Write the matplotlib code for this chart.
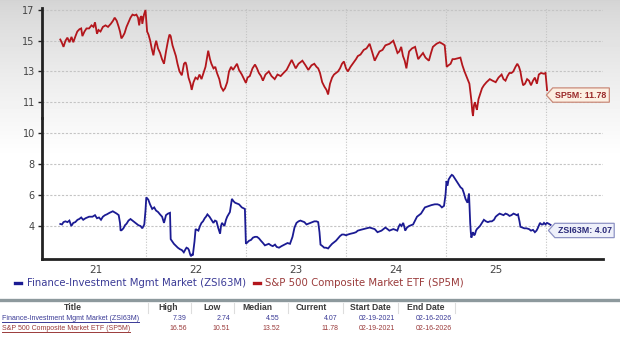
import numpy as np
import matplotlib
matplotlib.use("Agg")
import matplotlib.pyplot as plt
from matplotlib.path import Path
from matplotlib.lines import Line2D

# ---------------- data ----------------
sp5m_year = [
    2021.148, 2021.165, 2021.180, 2021.200, 2021.219, 2021.240, 2021.260, 2021.278, 2021.300, 2021.318,
    2021.340, 2021.357, 2021.369, 2021.390, 2021.410, 2021.436, 2021.460, 2021.480, 2021.495, 2021.515,
    2021.530, 2021.550, 2021.574, 2021.600, 2021.625, 2021.653, 2021.675, 2021.692, 2021.712, 2021.732,
    2021.745, 2021.759, 2021.775, 2021.791, 2021.810, 2021.830, 2021.850, 2021.870, 2021.890, 2021.909,
    2021.925, 2021.937, 2021.948, 2021.961, 2021.968, 2021.985, 2022.000, 2022.016, 2022.030, 2022.047,
    2022.062, 2022.079, 2022.095, 2022.107, 2022.125, 2022.146, 2022.165, 2022.185, 2022.205, 2022.225,
    2022.240, 2022.252, 2022.270, 2022.290, 2022.304, 2022.320, 2022.340, 2022.363, 2022.385, 2022.400,
    2022.410, 2022.430, 2022.450, 2022.462, 2022.480, 2022.500, 2022.521, 2022.540, 2022.560, 2022.580,
    2022.600, 2022.615, 2022.627, 2022.645, 2022.659, 2022.680, 2022.698, 2022.715, 2022.738, 2022.755,
    2022.777, 2022.795, 2022.817, 2022.835, 2022.856, 2022.875, 2022.895, 2022.915, 2022.935, 2022.963,
    2022.985, 2023.004, 2023.020, 2023.043, 2023.070, 2023.095, 2023.115, 2023.134, 2023.155, 2023.174,
    2023.200, 2023.233, 2023.260, 2023.292, 2023.320, 2023.352, 2023.380, 2023.411, 2023.435, 2023.462,
    2023.480, 2023.502, 2023.530, 2023.569, 2023.600, 2023.628, 2023.660, 2023.688, 2023.710, 2023.727,
    2023.745, 2023.767, 2023.790, 2023.810, 2023.826, 2023.845, 2023.866, 2023.885, 2023.905, 2023.925,
    2023.945, 2023.965, 2023.984, 2024.005, 2024.024, 2024.050, 2024.083, 2024.105, 2024.123, 2024.150,
    2024.182, 2024.210, 2024.241, 2024.265, 2024.292, 2024.315, 2024.340, 2024.370, 2024.399, 2024.440,
    2024.478, 2024.500, 2024.520, 2024.538, 2024.557, 2024.575, 2024.592, 2024.609, 2024.625, 2024.636,
    2024.665, 2024.696, 2024.712, 2024.727, 2024.750, 2024.775, 2024.800, 2024.834, 2024.855, 2024.874,
    2024.910, 2024.941, 2024.970, 2024.992, 2025.012, 2025.030, 2025.051, 2025.070, 2025.090, 2025.120,
    2025.149, 2025.169, 2025.190, 2025.208, 2025.225, 2025.239, 2025.250, 2025.259, 2025.268, 2025.275,
    2025.285, 2025.294, 2025.305, 2025.314, 2025.330, 2025.345, 2025.365, 2025.384, 2025.410, 2025.443,
    2025.470, 2025.502, 2025.530, 2025.561, 2025.580, 2025.600, 2025.620, 2025.639, 2025.660, 2025.678,
    2025.700, 2025.718, 2025.735, 2025.749, 2025.762, 2025.776, 2025.795, 2025.816, 2025.835, 2025.855,
    2025.875, 2025.894, 2025.914, 2025.933, 2025.955, 2025.984, 2026.000, 2026.008, 2026.016,
]
sp5m_value = [
    15.08, 14.85, 14.60, 15.00, 15.20, 14.90, 15.25, 14.90, 15.30, 15.60,
    15.75, 15.80, 15.30, 15.60, 15.80, 15.80, 16.00, 15.90, 16.20, 15.45,
    15.70, 15.60, 15.90, 16.00, 15.90, 16.10, 16.30, 16.50, 16.30, 15.90,
    15.60, 15.15, 15.30, 15.50, 15.90, 16.20, 16.50, 16.70, 16.65, 16.70,
    16.50, 16.00, 16.50, 16.60, 16.10, 16.70, 17.00, 15.60, 15.40, 15.00,
    14.50, 14.05, 14.70, 15.00, 14.50, 14.20, 13.80, 13.50, 14.30, 15.00,
    15.40, 15.30, 14.70, 14.30, 14.00, 13.50, 13.00, 12.75, 13.50, 13.60,
    13.40, 12.60, 12.20, 11.80, 12.30, 12.60, 12.50, 12.80, 12.50, 12.90,
    13.30, 13.90, 14.35, 13.80, 13.50, 13.20, 13.30, 12.90, 12.50, 12.00,
    11.75, 11.90, 12.30, 13.00, 13.30, 13.10, 13.30, 13.50, 13.10, 12.80,
    12.50, 12.25, 12.60, 12.70, 13.20, 13.45, 13.20, 12.90, 12.70, 12.40,
    12.80, 13.00, 12.70, 12.50, 12.80, 12.70, 12.90, 13.10, 13.40, 13.75,
    13.50, 13.20, 13.50, 13.70, 13.40, 13.10, 13.40, 13.50, 13.30, 13.20,
    12.90, 12.30, 12.00, 11.80, 11.50, 12.20, 12.60, 12.80, 12.90, 13.00,
    13.20, 13.50, 13.65, 13.20, 13.00, 13.30, 13.60, 13.80, 14.00, 14.10,
    14.40, 14.50, 14.80, 14.30, 13.70, 14.00, 14.30, 14.40, 14.70, 14.80,
    15.00, 14.60, 14.20, 14.30, 14.60, 14.00, 13.70, 13.20, 13.90, 14.30,
    14.50, 14.60, 14.20, 13.80, 14.00, 14.20, 13.90, 13.70, 14.20, 14.60,
    14.80, 14.90, 14.80, 14.70, 13.30, 13.40, 13.50, 13.80, 13.80, 13.85,
    13.90, 13.40, 13.00, 12.70, 12.40, 12.20, 11.60, 11.10, 10.40, 10.10,
    10.80, 11.00, 10.70, 10.50, 11.20, 11.50, 11.90, 12.10, 12.30, 12.50,
    12.40, 12.30, 12.60, 12.80, 12.50, 12.40, 12.70, 12.90, 12.90, 13.00,
    13.30, 13.50, 13.30, 13.00, 12.50, 12.10, 12.20, 12.50, 12.40, 12.10,
    12.40, 12.60, 12.20, 12.80, 12.90, 12.85, 12.90, 12.30, 11.78,
]

zsi_year = [
    2021.148, 2021.165, 2021.180, 2021.199, 2021.220, 2021.239, 2021.258, 2021.278, 2021.298, 2021.320,
    2021.337, 2021.357, 2021.377, 2021.400, 2021.436, 2021.470, 2021.495, 2021.515, 2021.535, 2021.555,
    2021.574, 2021.595, 2021.613, 2021.640, 2021.673, 2021.700, 2021.712, 2021.732, 2021.745, 2021.751,
    2021.765, 2021.779, 2021.795, 2021.811, 2021.830, 2021.850, 2021.870, 2021.890, 2021.910, 2021.929,
    2021.950, 2021.968, 2021.988, 2022.000, 2022.008, 2022.028, 2022.045, 2022.067, 2022.087, 2022.105,
    2022.126, 2022.145, 2022.166, 2022.185, 2022.205, 2022.225, 2022.245, 2022.252, 2022.268, 2022.284,
    2022.300, 2022.323, 2022.345, 2022.363, 2022.383, 2022.400, 2022.410, 2022.425, 2022.434, 2022.445,
    2022.454, 2022.465, 2022.473, 2022.490, 2022.501, 2022.515, 2022.529, 2022.545, 2022.560, 2022.575,
    2022.592, 2022.605, 2022.619, 2022.640, 2022.659, 2022.679, 2022.695, 2022.710, 2022.726, 2022.746,
    2022.755, 2022.765, 2022.789, 2022.805, 2022.817, 2022.844, 2022.864, 2022.880, 2022.896, 2022.915,
    2022.935, 2022.963, 2022.994, 2023.004, 2023.020, 2023.036, 2023.055, 2023.075, 2023.095, 2023.115,
    2023.135, 2023.154, 2023.175, 2023.194, 2023.213, 2023.233, 2023.255, 2023.273, 2023.295, 2023.312,
    2023.335, 2023.360, 2023.391, 2023.420, 2023.445, 2023.470, 2023.490, 2023.510, 2023.530, 2023.549,
    2023.570, 2023.589, 2023.610, 2023.630, 2023.648, 2023.668, 2023.688, 2023.710, 2023.727, 2023.740,
    2023.750, 2023.770, 2023.787, 2023.805, 2023.826, 2023.845, 2023.866, 2023.885, 2023.905, 2023.925,
    2023.945, 2023.965, 2023.984, 2024.005, 2024.024, 2024.050, 2024.083, 2024.105, 2024.123, 2024.150,
    2024.182, 2024.210, 2024.241, 2024.265, 2024.292, 2024.320, 2024.340, 2024.360, 2024.380, 2024.399,
    2024.420, 2024.439, 2024.460, 2024.478, 2024.500, 2024.518, 2024.535, 2024.545, 2024.560, 2024.577,
    2024.590, 2024.597, 2024.615, 2024.636, 2024.655, 2024.676, 2024.695, 2024.715, 2024.735, 2024.755,
    2024.775, 2024.794, 2024.815, 2024.834, 2024.860, 2024.893, 2024.920, 2024.941, 2024.964, 2024.985,
    2025.000, 2025.010, 2025.020, 2025.031, 2025.050, 2025.063, 2025.075, 2025.090, 2025.110, 2025.129,
    2025.150, 2025.169, 2025.185, 2025.200, 2025.220, 2025.235, 2025.242, 2025.247, 2025.253, 2025.259,
    2025.268, 2025.275, 2025.285, 2025.294, 2025.305, 2025.314, 2025.330, 2025.345, 2025.365, 2025.384,
    2025.405, 2025.424, 2025.445, 2025.463, 2025.485, 2025.502, 2025.520, 2025.541, 2025.560, 2025.580,
    2025.600, 2025.620, 2025.640, 2025.659, 2025.680, 2025.698, 2025.712, 2025.725, 2025.740, 2025.749,
    2025.770, 2025.788, 2025.810, 2025.835, 2025.855, 2025.875, 2025.894, 2025.910, 2025.922, 2025.945,
    2025.960, 2025.973, 2025.985, 2026.000, 2026.015, 2026.031, 2026.051,
]
zsi_value = [
    4.13, 4.10, 4.25, 4.30, 4.25, 4.35, 4.00, 4.20, 4.25, 4.40,
    4.45, 4.55, 4.40, 4.50, 4.60, 4.60, 4.70, 4.50, 4.55, 4.40,
    4.60, 4.70, 4.75, 4.85, 4.95, 4.85, 4.80, 4.70, 4.20, 3.70,
    3.75, 3.85, 4.05, 4.15, 4.35, 4.45, 4.35, 4.25, 4.15, 4.05,
    4.00, 3.85, 4.10, 5.00, 5.85, 5.70, 5.40, 5.10, 5.20, 5.00,
    4.90, 4.75, 4.60, 4.20, 4.70, 4.80, 4.85, 3.15, 3.00, 2.85,
    2.75, 2.60, 2.50, 2.45, 2.30, 2.50, 2.60, 2.55, 2.45, 2.20,
    2.05, 2.15, 2.10, 3.00, 3.80, 3.75, 3.70, 4.00, 4.20, 4.30,
    4.50, 4.60, 4.75, 4.60, 4.40, 4.20, 4.35, 4.30, 3.90, 3.50,
    4.00, 4.20, 4.00, 4.40, 4.60, 4.90, 5.75, 5.60, 5.50, 5.45,
    5.40, 5.20, 5.10, 2.85, 2.95, 3.05, 3.10, 3.25, 3.30, 3.30,
    3.20, 3.05, 2.90, 2.75, 2.80, 2.85, 2.75, 2.70, 2.80, 2.65,
    2.60, 2.70, 2.80, 2.90, 2.85, 3.30, 3.90, 4.20, 4.30, 4.35,
    4.30, 4.25, 4.10, 4.15, 4.20, 4.25, 4.30, 4.30, 4.25, 3.60,
    2.80, 2.70, 2.60, 2.60, 2.55, 2.70, 2.85, 2.95, 3.05, 3.20,
    3.35, 3.45, 3.45, 3.40, 3.45, 3.50, 3.55, 3.60, 3.70, 3.75,
    3.80, 3.85, 3.90, 3.85, 3.80, 3.60, 3.65, 3.70, 3.80, 3.90,
    3.80, 3.70, 3.75, 3.80, 3.75, 3.70, 4.00, 4.10, 4.00, 4.20,
    3.90, 3.70, 3.90, 4.00, 4.05, 4.10, 4.35, 4.60, 4.70, 4.80,
    5.00, 5.20, 5.25, 5.30, 5.35, 5.40, 5.40, 5.35, 5.20, 5.30,
    6.00, 6.90, 6.60, 7.00, 7.20, 7.30, 7.25, 7.10, 6.90, 6.70,
    6.50, 6.40, 6.10, 5.75, 5.50, 6.10, 5.00, 4.20, 3.60, 3.25,
    3.50, 3.60, 3.40, 3.45, 3.70, 3.80, 3.90, 4.00, 4.20, 4.40,
    4.30, 4.25, 4.30, 4.30, 4.40, 4.60, 4.70, 4.80, 4.75, 4.70,
    4.80, 4.75, 4.65, 4.70, 4.80, 4.75, 4.70, 4.75, 4.30, 3.95,
    3.90, 3.85, 3.85, 3.80, 3.70, 3.75, 3.60, 3.70, 3.85, 4.20,
    4.10, 4.10, 4.20, 4.10, 4.20, 4.15, 4.07,
]

year_labels = ["21", "22", "23", "24", "25"]
upper_ticks = [11, 13, 15, 17]
lower_ticks = [4, 6, 8, 10]

sp5m_name = "S&P 500 Composite Market ETF (SP5M)"
zsi_name = "Finance-Investment Mgmt Market (ZSI63M)"
sp5m_tag = "SP5M"
zsi_tag = "ZSI63M"

table_header = ["Title", "High", "Low", "Median", "Current", "Start Date", "End Date"]
table_rows = [
    [zsi_name, "7.39", "2.74", "4.55", "4.07", "02-19-2021", "02-16-2026"],
    [sp5m_name, "16.56", "10.51", "13.52", "11.78", "02-19-2021", "02-16-2026"],
]

# ---------------- style ----------------
RED = "#b3161c"
BLUE = "#1b1b93"
RED_TXT = "#9a3a3a"
BLUE_TXT = "#3a3a96"
GRID = "#c4c4c4"
W, H = 620, 349
DPI = 100

fig = plt.figure(figsize=(W / DPI, H / DPI), dpi=DPI)
fig.patch.set_facecolor("white")


def fx(px):
    return px / W


def fy(py):
    return 1 - py / H


# soft grey wash behind the top of the chart
bg = fig.add_axes([0, 0, 1, 1], zorder=-10)
rows = np.linspace(0, 1, 349)
shade = np.clip(rows / 0.45, 0, 1) ** 0.8
grad = 0.83 + (1 - 0.83) * shade
bg.imshow(np.repeat(grad[:, None], 2, axis=1), cmap="gray", vmin=0, vmax=1,
          aspect="auto", extent=[0, 1, 0, 1], origin="upper")
bg.axis("off")

left_px, right_px = 41.7, 603
split_px = 118
xlim = (2020.962, 2026.575)

ax_top = fig.add_axes([fx(left_px), fy(split_px), fx(right_px - left_px), (split_px - 8) / H])
ax_bot = fig.add_axes([fx(left_px), fy(259), fx(right_px - left_px), (259 - split_px) / H])

for ax in (ax_top, ax_bot):
    ax.set_facecolor("none")
    ax.set_xlim(*xlim)
    for s in ("top", "right"):
        ax.spines[s].set_visible(False)
    ax.spines["left"].set_linewidth(2.0)
    ax.spines["left"].set_color("#222222")
    ax.tick_params(axis="y", length=3, width=1, color="#222222", labelsize=7, labelcolor="#444444", pad=2)
    ax.set_xticks([2022, 2023, 2024, 2025, 2026], minor=True)
    ax.grid(True, which="minor", axis="x", color=GRID, linestyle=(0, (1, 1.5)), linewidth=0.8)
    ax.grid(True, which="major", axis="y", color=GRID, linestyle=(0, (2, 1.5)), linewidth=0.8)
    ax.tick_params(axis="x", which="both", length=0)

ax_top.spines["bottom"].set_visible(False)
ax_top.set_ylim(9.97, 17.13)
ax_top.set_yticks(upper_ticks)
ax_top.set_xticks([])
ax_top.set_xticks([2022, 2023, 2024, 2025, 2026], minor=True)

ax_bot.set_ylim(1.87, 10.97)
ax_bot.set_yticks(lower_ticks)
ax_bot.spines["bottom"].set_linewidth(2.0)
ax_bot.spines["bottom"].set_color("#222222")
ax_bot.set_xticks([y + 0.5 for y in range(2021, 2026)])
ax_bot.set_xticklabels(year_labels, fontsize=7.5, color="#444444")
ax_bot.tick_params(axis="x", which="major", pad=4)

ax_top.plot(sp5m_year, sp5m_value, color=RED, linewidth=1.3, solid_joinstyle="miter", clip_on=False)
ax_bot.plot(zsi_year, zsi_value, color=BLUE, linewidth=1.3, solid_joinstyle="miter", clip_on=False)


def tag_box(x0, y0, width, height, mutation_size):
    pad = 0.3 * mutation_size
    x0, y0 = x0 - pad, y0 - pad
    width, height = width + 2 * pad, height + 2 * pad
    tip = 0.45 * height
    verts = [(x0 - tip, y0 + height / 2), (x0, y0 + height), (x0 + width, y0 + height),
             (x0 + width, y0), (x0, y0), (x0 - tip, y0 + height / 2)]
    return Path(verts, closed=True)


ax_top.annotate(f"{sp5m_tag}: {sp5m_value[-1]:.2f}", xy=(sp5m_year[-1], sp5m_value[-1]),
                xytext=(6, -3.5), textcoords="offset points", ha="left", va="center",
                fontsize=6.4, fontweight="bold", color="#9b2b2b", family="Liberation Sans",
                annotation_clip=False, zorder=5,
                bbox=dict(boxstyle=tag_box, fc="#fcefe2", ec="#c98a7a", lw=0.9))
ax_bot.annotate(f"{zsi_tag}: {zsi_value[-1]:.2f}", xy=(zsi_year[-1], zsi_value[-1]),
                xytext=(5, -4), textcoords="offset points", ha="left", va="center",
                fontsize=6.4, fontweight="bold", color="#2b2b7a", family="Liberation Sans",
                annotation_clip=False, zorder=5,
                bbox=dict(boxstyle=tag_box, fc="#eef0fa", ec="#8e93c4", lw=0.9))

# legend row
leg_y = fy(283)
fig.add_artist(Line2D([fx(15), fx(21)], [leg_y, leg_y], color=BLUE, lw=2.4))
fig.text(fx(27), leg_y, zsi_name, color=BLUE_TXT, fontsize=7.3, va="center", ha="left")
fig.add_artist(Line2D([fx(254), fx(260)], [leg_y, leg_y], color=RED, lw=2.4))
fig.text(fx(265), leg_y, sp5m_name, color=RED_TXT, fontsize=7.3, va="center", ha="left")

# separator bar
fig.add_artist(Line2D([0, 1], [fy(300), fy(300)], color="#8d999d", lw=2.4))

# summary table
narrow = ["Liberation Sans Narrow", "Liberation Sans", "DejaVu Sans"]
head_centers = [73, 168, 212, 257, 311, 370, 426]
value_rights = [187, 230, 280, 338, 395, 452]
col_seps = [148, 191, 234, 288, 343, 398, 455]
for name, cx in zip(table_header, head_centers):
    fig.text(fx(cx), fy(307.5), name, ha="center", va="center", fontsize=6.2,
             fontweight="bold", color="#3a3a3a", family=narrow)
for sx in col_seps:
    fig.add_artist(Line2D([fx(sx), fx(sx)], [fy(302.5), fy(313)], color="#dddddd", lw=0.8))

row_y = [318, 328]
row_colors = [BLUE_TXT, RED_TXT]
title_texts = []
for r, yy, col in zip(table_rows, row_y, row_colors):
    t = fig.text(fx(2), fy(yy), r[0], ha="left", va="center", fontsize=5.0, color=col, family=narrow)
    title_texts.append((t, col, yy))
    for val, rx in zip(r[1:], value_rights):
        fig.text(fx(rx), fy(yy), val, ha="right", va="center", fontsize=5.0, color=col, family=narrow)

fig.canvas.draw()
renderer = fig.canvas.get_renderer()
for t, col, yy in title_texts:
    bb = t.get_window_extent(renderer)
    fig.add_artist(Line2D([bb.x0 / W, bb.x1 / W], [fy(yy + 4), fy(yy + 4)], color=col, lw=0.7))

fig.savefig("out.png", dpi=DPI, facecolor=fig.get_facecolor())
